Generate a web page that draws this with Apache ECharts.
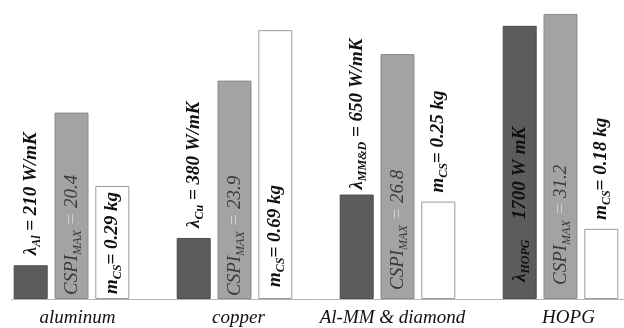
<!DOCTYPE html>
<html><head><meta charset="utf-8">
<script src="https://cdn.jsdelivr.net/npm/echarts@6/dist/echarts.min.js"></script>
<style>html,body{margin:0;padding:0;background:#fff}#c{width:624px;height:328px}</style>
</head><body><div id="c"></div>
<script>
const categories = ['aluminum', 'copper', 'Al-MM & diamond', 'HOPG'];
const conductivity = [210, 380, 650, 1700];        // W/mK
const cspiMax = [20.4, 23.9, 26.8, 31.2];
const massCS = [0.29, 0.69, 0.25, 0.18];            // kg
const lambdaSub = ['Al', 'Cu', 'MM&D', 'HOPG'];

const serif = 'Liberation Serif';
const FS = 19;

// label placement (style, not data)
const lamPlace = [
  {position: 'top', distance: 10},
  {position: 'top', distance: 10},
  {position: 'top', distance: 5},
  {position: 'insideBottom', distance: 17}
];
const cspiPlace = [
  {position: 'insideBottom', distance: 4},
  {position: 'insideBottom', distance: 3},
  {position: 'insideBottom', distance: 9},
  {position: 'insideBottom', distance: 14}
];
const massPlace = [
  {position: 'insideBottom', distance: 5},
  {position: 'insideBottom', distance: 12},
  {position: 'top', distance: 9},
  {position: 'top', distance: 9}
];
// small horizontal nudges of the category labels: [left, right] padding
const catPad = [[12, 0], [8, 0], [0, 10], [16, 0]];

const DARK = '#5c5c5c', GREY = '#a3a3a3';

const baseLabel = {show: true, rotate: 90, align: 'left', verticalAlign: 'middle'};

const catRich = {};
catPad.forEach((p, i) => {
  catRich['c' + i] = {fontFamily: serif, fontStyle: 'italic', fontSize: 19, lineHeight: 20, color: '#111', padding: [0, p[1], 0, p[0]]};
});

const chart = echarts.init(document.getElementById('c'));
chart.setOption({
  animation: false,
  backgroundColor: '#fff',
  grid: {left: -10, width: 652, top: 13, bottom: 29, outerBoundsMode: 'none', containLabel: false},
  xAxis: {
    type: 'category', data: categories,
    axisLine: {show: false}, axisTick: {show: false},
    axisLabel: {
      interval: 0, margin: 9,
      formatter: (v, i) => '{c' + i + '|' + v + '}',
      rich: catRich
    }
  },
  yAxis: [
    {type: 'value', min: 0, max: 1780, show: false},
    {type: 'value', min: 0, max: 31.3, show: false},
    {type: 'value', min: 0, max: 0.734, show: false}
  ],
  graphic: [{
    type: 'line', shape: {x1: 11, y1: 299.5, x2: 624, y2: 299.5},
    style: {stroke: '#b4b4b4', lineWidth: 1}, z: 100
  }],
  series: [
    {
      type: 'bar', yAxisIndex: 0, barWidth: 34, barGap: '20%',
      itemStyle: {color: DARK, borderColor: '#4c4c4c', borderWidth: 1},
      data: conductivity.map((v, i) => ({value: v, label: lamPlace[i]})),
      label: Object.assign({}, baseLabel, {
        formatter: p => p.dataIndex === 3
          ? '{l|λ}{s|' + lambdaSub[p.dataIndex] + '}{h| = }{l|' + p.value + ' W}{h|/}{l|mK}'
          : '{l|λ}{s|' + lambdaSub[p.dataIndex] + '}{l| = ' + p.value + ' W/mK}',
        rich: {
          l: {fontFamily: serif, fontSize: FS, fontStyle: 'italic', fontWeight: 'bold', color: '#111', lineHeight: 24},
          s: {fontFamily: serif, fontSize: 12, fontStyle: 'italic', fontWeight: 'bold', color: '#111', lineHeight: 12, verticalAlign: 'bottom'},
          h: {fontFamily: serif, fontSize: FS, fontStyle: 'italic', fontWeight: 'bold', color: DARK, lineHeight: 24}
        }
      })
    },
    {
      type: 'bar', yAxisIndex: 1, barWidth: 34, barGap: '20%',
      itemStyle: {color: GREY, borderColor: '#8c8c8c', borderWidth: 1},
      data: cspiMax.map((v, i) => ({value: v, label: cspiPlace[i]})),
      label: Object.assign({}, baseLabel, {
        formatter: p => '{c|CSPI}{s|MAX}{e| = }{c|' + p.value + '}',
        rich: {
          c: {fontFamily: serif, fontSize: FS, fontStyle: 'italic', color: '#3a3a3a', lineHeight: 24},
          s: {fontFamily: serif, fontSize: 12, fontStyle: 'italic', color: '#3a3a3a', lineHeight: 12, verticalAlign: 'bottom'},
          e: {fontFamily: serif, fontSize: FS, fontStyle: 'italic', color: '#d4d4d4', lineHeight: 24}
        }
      })
    },
    {
      type: 'bar', yAxisIndex: 2, barWidth: 34, barGap: '20%',
      itemStyle: {color: '#ffffff', borderColor: '#9c9c9c', borderWidth: 1},
      data: massCS.map((v, i) => ({value: v, label: massPlace[i]})),
      label: Object.assign({}, baseLabel, {
        formatter: p => '{m|m}{s|CS}{m|= ' + p.value + ' kg}',
        rich: {
          m: {fontFamily: serif, fontSize: FS, fontStyle: 'italic', fontWeight: 'bold', color: '#111', lineHeight: 24},
          s: {fontFamily: serif, fontSize: 12, fontStyle: 'italic', fontWeight: 'bold', color: '#111', lineHeight: 12, verticalAlign: 'bottom'}
        }
      })
    }
  ]
});
</script>
</body></html>
